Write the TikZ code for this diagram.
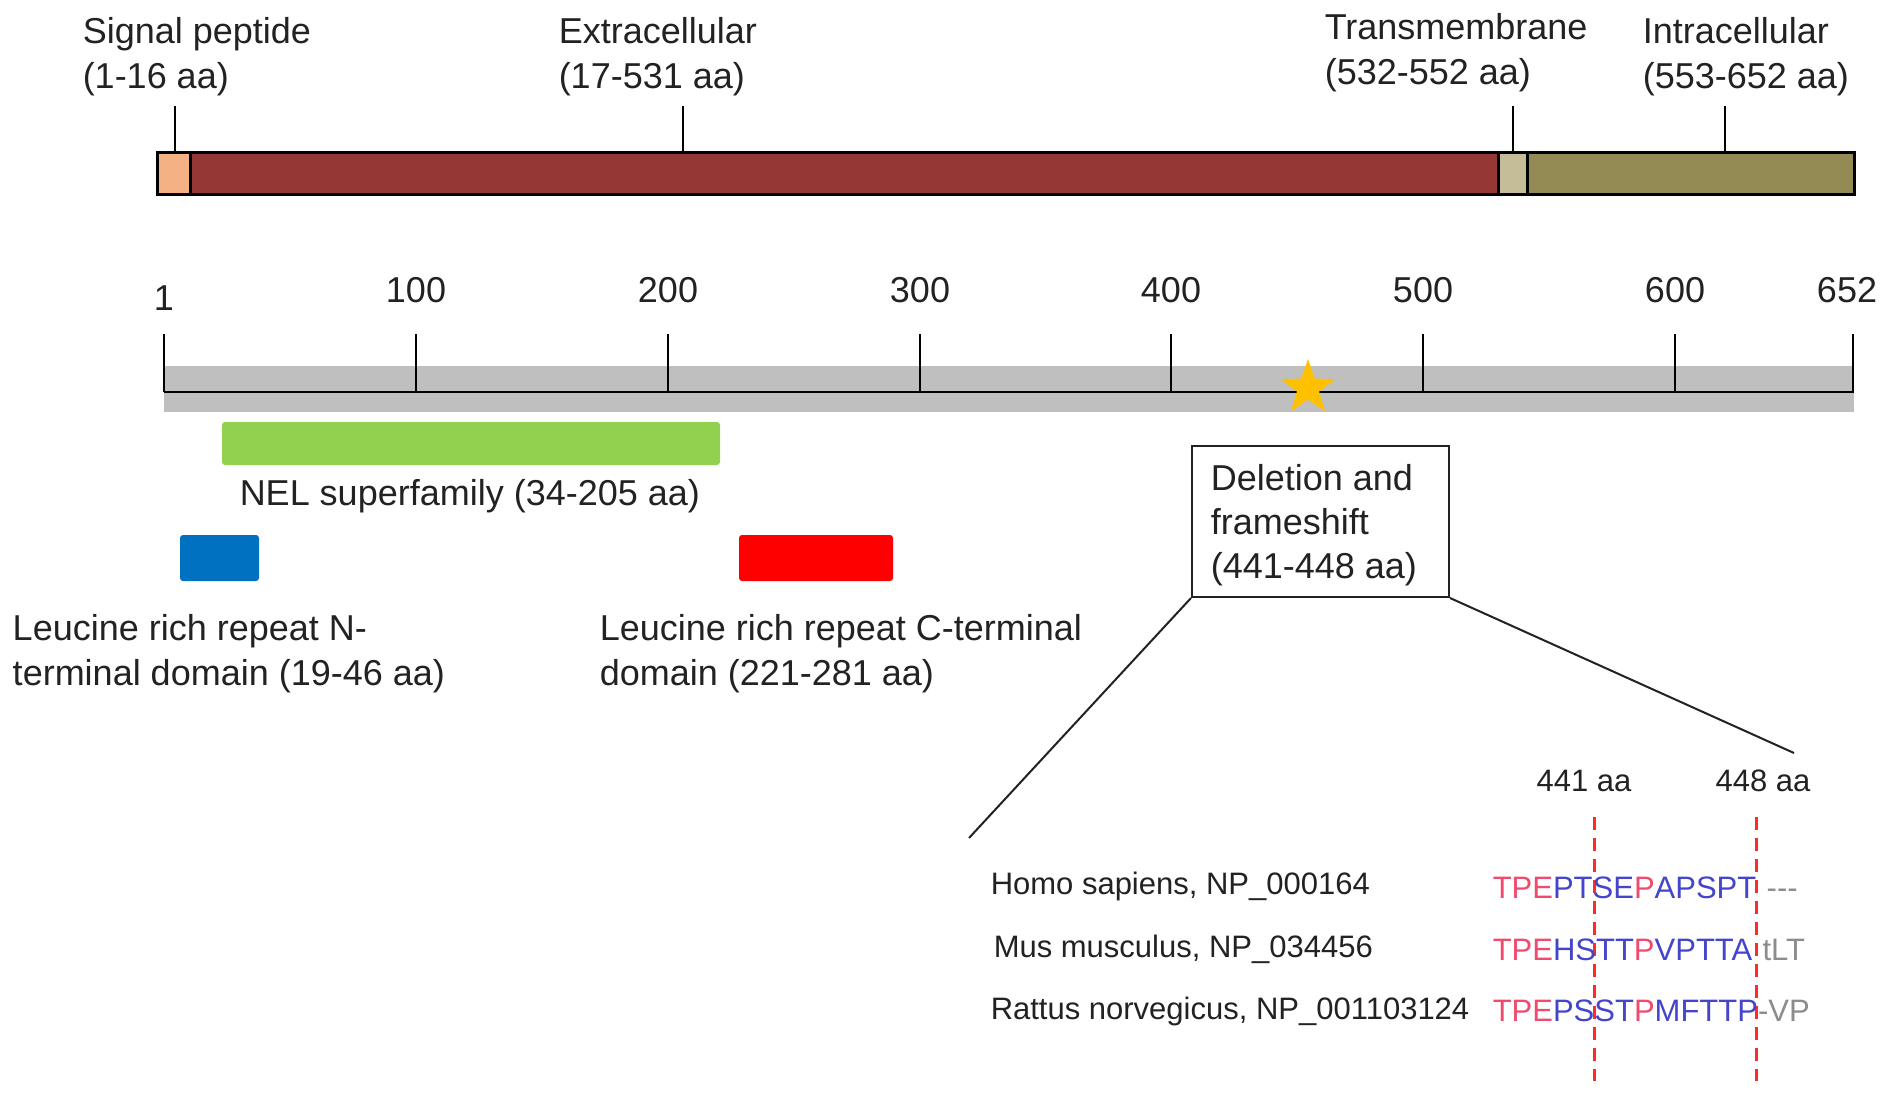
\documentclass[tikz,border=0pt]{standalone}
\usepackage{fontspec}
\setmainfont{Liberation Sans}
\usetikzlibrary{shapes.geometric}

\definecolor{sigcol}{HTML}{F4B183}
\definecolor{extcol}{HTML}{953735}
\definecolor{tmcol}{HTML}{C4BD97}
\definecolor{intcol}{HTML}{948A54}
\definecolor{bandcol}{HTML}{BFBFBF}
\definecolor{nelcol}{HTML}{92D050}
\definecolor{lrrncol}{HTML}{0070C0}
\definecolor{lrrccol}{HTML}{FF0000}
\definecolor{starcol}{HTML}{FFC000}
\definecolor{txtcol}{HTML}{222222}
\definecolor{aared}{HTML}{F04A6E}
\definecolor{aablue}{HTML}{4545CC}
\definecolor{aagray}{HTML}{8C8C8C}
\definecolor{cutcol}{HTML}{FF2A2A}

\tikzset{every picture/.style={line width=0.75pt}}
\tikzset{
  lbl/.style={anchor=west, inner sep=0pt, align=left, text=txtcol, font=\fontsize{18}{22.5}\selectfont},
  small/.style={inner sep=0pt, text=txtcol, font=\fontsize{15.5}{18}\selectfont},
  seg/.style={draw=black, line width=1.5pt, inner sep=0pt, minimum height=20.5pt},
  dom/.style={inner sep=0pt, rounded corners=1.5pt},
  cut/.style={draw=cutcol, line width=1.5pt, dash pattern=on 6.5pt off 4pt},
}

\begin{document}
\begin{tikzpicture}[x=0.5pt,y=0.5pt,yscale=-1,xscale=1]
%set diagram to the size of the figure
\useasboundingbox (0,0) rectangle (1890,1097);

%Shape: Protein bar
\node[seg, fill=sigcol, minimum width=16.5pt] (sig) at (173.5,173.5) {};
\node[seg, fill=extcol, minimum width=654pt] (ext) at (844,173.5) {};
\node[seg, fill=tmcol, minimum width=14.5pt] (tm) at (1512.5,173.5) {};
\node[seg, fill=intcol, minimum width=163.5pt] (int) at (1690.5,173.5) {};

% Text Node
\node[lbl] (siglbl) at (82,57) {Signal peptide\\(1-16 aa)};
% Text Node
\node[lbl] (extlbl) at (558,57) {Extracellular\\(17-531 aa)};
% Text Node
\node[lbl] (tmlbl) at (1324,53) {Transmembrane\\(532-552 aa)};
% Text Node
\node[lbl] (intlbl) at (1642,57) {Intracellular\\(553-652 aa)};

%Straight Lines: label leaders
\coordinate (sigtick) at (175,106);
\coordinate (exttick) at (683,106);
\coordinate (tmtick) at (1513,106);
\coordinate (inttick) at (1725,106);
\draw (sigtick) -- (sigtick |- sig.north);
\draw (exttick) -- (exttick |- ext.north);
\draw (tmtick) -- (tmtick |- tm.north);
\draw (inttick) -- (inttick |- int.north);

%Shape: Axis band
\fill[bandcol] (164,366) rectangle (1854,412);
\draw[line width=1.25pt] (164,392) -- (1854,392);
\foreach \x/\t in {164/1,416/100,668/200,920/300,1171/400,1423/500,1675/600,1853/652}{
  \draw[line width=1pt] (\x,334) -- (\x,392);
}
% Text Node: axis numbers
\node[lbl, anchor=center] (n1) at (164,298) {1};
\foreach \x/\t in {416/100,668/200,920/300,1171/400,1423/500,1675/600}{
  \node[lbl, anchor=center] (n\t) at (\x,290) {\t};
}
\node[lbl, anchor=center] (n652) at (1847,290) {652};

%Shape: Star
\node[star, star points=5, star point ratio=2.5, fill=starcol, inner sep=0pt, minimum size=29pt] (mut) at (1308,388) {};

%Shape: Domains
\node[dom, fill=nelcol, minimum width=249pt, minimum height=21.5pt] (nel) at (471,443.5) {};
\node[dom, fill=lrrncol, minimum width=39.5pt, minimum height=23pt] (lrrn) at (219.5,558) {};
\node[dom, fill=lrrccol, minimum width=77pt, minimum height=23pt] (lrrc) at (816,558) {};

% Text Node
\node[lbl] (nellbl) at (239,496) {NEL superfamily (34-205 aa)};
% Text Node
\node[lbl] (lrrnlbl) at (12,654) {Leucine rich repeat N-\\terminal domain (19-46 aa)};
% Text Node
\node[lbl] (lrrclbl) at (599,654) {Leucine rich repeat C-terminal\\domain (221-281 aa)};

%Shape: Deletion box
\node[draw=txtcol, line width=1pt, minimum width=128.5pt, minimum height=75.5pt] (del) at (1320.5,521.5) {};
% Text Node
\node[lbl, font=\fontsize{18}{21.8}\selectfont] (deltxt) at ([xshift=9.5pt,yshift=1.8pt]del.west)
  {Deletion and\\frameshift\\(441-448 aa)};

%Straight Lines: zoom
\coordinate (zoomL) at (969,838);
\coordinate (zoomR) at (1794,753);
\draw[txtcol, line width=1pt] (del.south west) -- (zoomL);
\draw[txtcol, line width=1pt] (del.south east) -- (zoomR);

% Text Node
\node[small, anchor=center] (p441) at (1584,781) {441 aa};
% Text Node
\node[small, anchor=center] (p448) at (1763,781) {448 aa};

%Dashed Lines: cut sites
\coordinate (c441a) at (1594,817);
\coordinate (c441b) at (1594,1081);
\coordinate (c448a) at (1756,817);
\coordinate (c448b) at (1756,1081);
\draw[cut] (c441a) -- (c441b);
\draw[cut] (c448a) -- (c448b);

% Text Node: species
\node[small, anchor=west] (hs) at (990,886) {Homo sapiens, NP\_000164};
\node[small, anchor=west] (mm) at (993,949) {Mus musculus, NP\_034456};
\node[small, anchor=west] (rn) at (990,1011) {Rattus norvegicus, NP\_001103124};

% Text Node: sequences
\node[small, anchor=west] (hsseq) at (1492,888)
  {\color{aared}TPE\color{aablue}PTSE\color{aared}P\color{aablue}APSPT\color{aagray}\,\,-{}-{}-};
\node[small, anchor=west] (mmseq) at (1492,950)
  {\color{aared}TPE\color{aablue}HSTT\color{aared}P\color{aablue}VPTTA\color{aagray}\,\,tLT};
\node[small, anchor=west] (rnseq) at (1492,1011)
  {\color{aared}TPE\color{aablue}PSST\color{aared}P\color{aablue}MFTTP\color{aagray}-VP};

\end{tikzpicture}
\end{document}
